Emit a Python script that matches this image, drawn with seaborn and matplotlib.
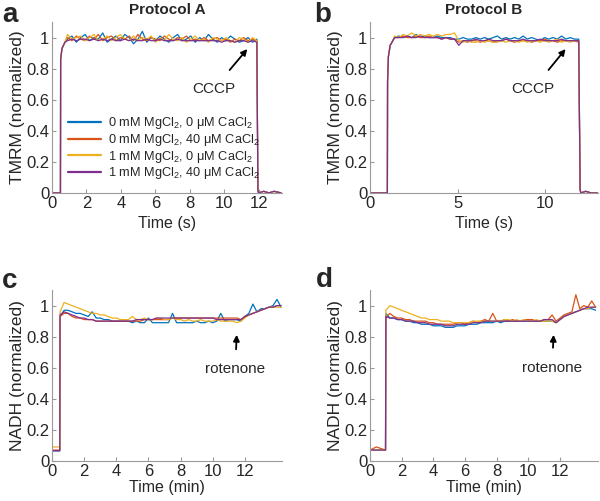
import numpy as np
import pandas as pd
import matplotlib
matplotlib.use('Agg')
import matplotlib.pyplot as plt
import seaborn as sns

sns.set_style('white')
plt.rcParams['font.family'] = ['Liberation Sans', 'DejaVu Sans']
plt.rcParams['mathtext.fontset'] = 'custom'
plt.rcParams['mathtext.rm'] = 'Liberation Sans'

conditions = ['0 mM MgCl$_2$, 0 \u03bcM CaCl$_2$',
              '0 mM MgCl$_2$, 40 \u03bcM CaCl$_2$',
              '1 mM MgCl$_2$, 0 \u03bcM CaCl$_2$',
              '1 mM MgCl$_2$, 40 \u03bcM CaCl$_2$']
colors = ['#0072BD', '#D95319', '#EDB120', '#7E2F8E']

# ----- Panel a : TMRM, protocol A (s) -----
a_rise_time = [0.0, 0.49, 0.5, 0.58, 0.75]
a_rise = [0.0, 0.0, 0.86, 0.93, 0.97]
a_plateau_span = (0.9, 11.9)
a_blue = [0.99, 1.01, 0.97, 1.00, 1.02, 0.98, 1.00, 0.99, 1.03, 0.97,
          0.99, 1.01, 0.98, 1.02, 1.00, 0.96, 0.99, 1.04, 0.97, 1.00,
          0.98, 1.01, 0.99, 0.97, 1.00, 1.02, 0.98, 0.99, 1.01, 0.97,
          1.00, 0.98, 1.02, 0.99, 0.97, 1.00, 0.98, 1.01, 0.99, 0.97,
          0.98, 1.00, 0.97, 0.99]
a_red = [1.00, 0.98, 1.01, 0.99, 0.98, 1.01, 0.99, 1.02, 0.98, 1.00,
         1.01, 0.98, 1.00, 0.99, 1.01, 0.98, 1.02, 0.99, 0.98, 1.00,
         0.99, 0.98, 1.01, 0.99, 0.98, 1.00, 0.99, 1.01, 0.98, 0.99,
         0.98, 1.00, 0.98, 0.99, 1.00, 0.98, 0.99, 0.97, 0.99, 0.98,
         1.00, 0.98, 0.99, 0.98]
a_yellow = [1.02, 0.99, 1.00, 1.01, 0.98, 1.00, 1.02, 0.98, 0.99, 1.01,
            0.98, 1.00, 1.02, 0.99, 0.98, 1.01, 0.98, 1.00, 0.99, 1.01,
            0.97, 1.00, 0.98, 1.02, 0.99, 0.98, 1.00, 0.97, 0.99, 1.01,
            0.98, 0.99, 0.97, 1.00, 0.99, 0.98, 1.00, 0.98, 0.97, 1.00,
            0.99, 0.97, 1.00, 0.98]
a_purple = [0.98, 0.99, 0.98, 0.99, 0.99, 0.98, 0.99, 0.98, 0.99, 0.98,
            0.99, 0.98, 0.98, 0.99, 0.98, 0.99, 0.98, 0.98, 0.99, 0.98,
            0.98, 0.99, 0.98, 0.98, 0.98, 0.99, 0.98, 0.98, 0.98, 0.98,
            0.98, 0.98, 0.98, 0.98, 0.98, 0.97, 0.98, 0.98, 0.97, 0.98,
            0.98, 0.97, 0.98, 0.97]
a_drop_time = [11.96, 12.0, 12.3, 12.6, 12.9, 13.3]
a_drop = [0.02, 0.0, 0.01, 0.0, 0.01, 0.0]

# ----- Panel b : TMRM, protocol B (s) -----
b_rise_time = [0.0, 0.99, 1.0, 1.05, 1.15, 1.3]
b_rise = [0.0, 0.0, 0.72, 0.88, 0.95, 0.98]
b_plateau_span = (1.4, 11.9)
b_blue = [1.00, 1.01, 1.00, 1.01, 1.00, 1.02, 1.00, 1.01, 1.00, 1.00,
          1.01, 1.00, 1.00, 1.00, 0.99, 0.99, 1.00, 0.99, 0.99, 1.00,
          0.99, 1.00, 0.99, 1.00, 1.01, 0.99, 1.00, 0.99, 1.00, 0.99,
          1.01, 0.99, 1.00, 0.99, 0.98, 1.00, 0.99, 1.00, 0.99, 1.01,
          0.99, 1.00, 0.99, 0.99]
b_red = [1.00, 1.00, 1.01, 1.00, 1.00, 1.01, 1.00, 1.00, 1.01, 1.00,
         1.00, 0.99, 1.00, 0.99, 0.99, 0.97, 0.98, 0.97, 0.98, 0.98,
         0.97, 0.98, 0.98, 0.97, 0.98, 0.98, 0.99, 0.98, 0.97, 0.98,
         0.98, 0.98, 0.97, 0.98, 0.98, 0.99, 0.98, 0.98, 0.97, 0.98,
         0.98, 0.98, 0.98, 0.97]
b_yellow = [1.01, 1.00, 1.02, 1.01, 1.03, 1.01, 1.02, 1.01, 1.02, 1.01,
            1.02, 1.01, 1.02, 1.02, 1.03, 0.98, 0.97, 0.98, 0.97, 0.97,
            0.98, 0.97, 0.98, 0.97, 0.97, 0.98, 0.97, 0.98, 0.98, 0.97,
            0.98, 0.97, 0.98, 0.98, 0.97, 0.98, 0.97, 0.98, 0.99, 0.97,
            0.98, 0.97, 0.98, 0.98]
b_purple = [1.00, 1.00, 1.00, 1.01, 1.00, 1.00, 1.01, 1.00, 1.00, 1.00,
            1.00, 0.99, 1.00, 0.99, 0.99, 0.95, 0.98, 0.98, 0.98, 0.99,
            0.98, 0.98, 0.99, 0.98, 0.98, 0.98, 0.99, 0.98, 0.98, 0.98,
            0.99, 0.98, 0.98, 0.98, 0.99, 0.98, 0.98, 0.98, 0.98, 0.99,
            0.98, 0.98, 0.98, 0.98]
b_drop_time = [11.98, 12.02, 12.3, 12.6, 13.0]
b_drop = [0.02, 0.0, 0.01, 0.0, 0.0]

# ----- Panel c : NADH, protocol A (min) -----
c_base_time = [0.0, 0.48]
c_base = [[0.065, 0.065], [0.07, 0.07], [0.09, 0.09], [0.065, 0.065]]
c_span = (0.5, 14.25)
c_blue = [0.93, 0.97, 0.97, 0.96, 0.95, 0.95, 0.94, 0.93, 0.96, 0.92,
          0.92, 0.91, 0.91, 0.90, 0.90, 0.90, 0.90, 0.90, 0.89, 0.90,
          0.89, 0.89, 0.92, 0.89, 0.89, 0.89, 0.89, 0.89, 0.95, 0.89,
          0.89, 0.89, 0.89, 0.89, 0.90, 0.89, 0.89, 0.90, 0.89, 0.90,
          0.95, 0.90, 0.91, 0.91, 0.91, 0.90, 0.93, 0.95, 1.01, 0.96,
          0.98, 0.98, 0.99, 1.00, 1.04, 0.99]
c_red = [0.93, 0.95, 0.95, 0.93, 0.92, 0.92, 0.91, 0.91, 0.91, 0.90,
         0.90, 0.90, 0.90, 0.90, 0.90, 0.90, 0.90, 0.90, 0.90, 0.90,
         0.90, 0.91, 0.91, 0.91, 0.91, 0.91, 0.91, 0.91, 0.92, 0.92,
         0.92, 0.92, 0.92, 0.92, 0.92, 0.92, 0.92, 0.92, 0.92, 0.92,
         0.92, 0.92, 0.92, 0.92, 0.92, 0.91, 0.93, 0.94, 0.95, 0.96,
         0.97, 0.98, 0.99, 0.99, 1.00, 1.00]
c_yellow = [0.96, 1.02, 1.01, 1.00, 0.99, 0.98, 0.97, 0.96, 0.95, 0.95,
            0.94, 0.94, 0.93, 0.92, 0.92, 0.91, 0.91, 0.91, 0.93, 0.91,
            0.91, 0.92, 0.91, 0.91, 0.92, 0.92, 0.91, 0.91, 0.92, 0.91,
            0.91, 0.90, 0.91, 0.90, 0.90, 0.91, 0.90, 0.90, 0.90, 0.91,
            0.90, 0.90, 0.90, 0.90, 0.89, 0.90, 0.92, 0.94, 0.95, 0.96,
            0.97, 0.98, 0.99, 0.99, 0.99, 0.99]
c_purple = [0.94, 0.96, 0.95, 0.94, 0.93, 0.92, 0.92, 0.91, 0.91, 0.90,
            0.90, 0.90, 0.90, 0.90, 0.90, 0.90, 0.90, 0.90, 0.90, 0.91,
            0.91, 0.91, 0.91, 0.91, 0.92, 0.92, 0.92, 0.92, 0.92, 0.92,
            0.92, 0.92, 0.92, 0.92, 0.92, 0.92, 0.92, 0.92, 0.92, 0.91,
            0.91, 0.91, 0.91, 0.91, 0.91, 0.91, 0.93, 0.94, 0.95, 0.96,
            0.97, 0.98, 0.99, 0.99, 1.00, 1.00]

# ----- Panel d : NADH, protocol B (min) -----
d_base_time = [0.0, 0.4, 0.98]
d_base = [[0.07, 0.07, 0.07], [0.07, 0.09, 0.07], [0.07, 0.07, 0.07], [0.07, 0.07, 0.07]]
d_span = (1.0, 14.25)
d_blue = [0.95, 0.92, 0.92, 0.91, 0.91, 0.90, 0.90, 0.89, 0.89, 0.88,
          0.88, 0.88, 0.87, 0.87, 0.87, 0.86, 0.86, 0.86, 0.87, 0.87,
          0.87, 0.88, 0.88, 0.88, 0.89, 0.89, 0.89, 0.89, 0.90, 0.89,
          0.90, 0.90, 0.90, 0.90, 0.90, 0.90, 0.90, 0.90, 0.90, 0.90,
          0.90, 0.90, 0.90, 0.89, 0.91, 0.93, 0.94, 0.95, 0.96, 0.97,
          0.98, 0.98, 0.98, 0.97]
d_red = [0.92, 0.95, 0.93, 0.92, 0.92, 0.91, 0.91, 0.90, 0.90, 0.90,
         0.90, 0.89, 0.89, 0.88, 0.88, 0.88, 0.88, 0.88, 0.89, 0.89,
         0.88, 0.89, 0.90, 0.89, 0.90, 0.91, 0.90, 0.95, 0.90, 0.90,
         0.91, 0.90, 0.91, 0.90, 0.90, 0.91, 0.91, 0.91, 0.90, 0.90,
         0.91, 0.91, 0.94, 0.90, 0.92, 0.94, 0.95, 0.96, 1.07, 0.98,
         1.00, 0.99, 1.03, 0.99]
d_yellow = [0.97, 1.00, 0.99, 0.98, 0.97, 0.96, 0.95, 0.94, 0.93, 0.92,
            0.92, 0.91, 0.91, 0.91, 0.90, 0.90, 0.90, 0.89, 0.89, 0.89,
            0.89, 0.89, 0.90, 0.90, 0.90, 0.90, 0.90, 0.90, 0.90, 0.90,
            0.91, 0.91, 0.90, 0.91, 0.90, 0.91, 0.90, 0.90, 0.91, 0.90,
            0.90, 0.90, 0.90, 0.89, 0.91, 0.93, 0.94, 0.95, 0.96, 0.97,
            0.98, 0.98, 0.99, 0.99]
d_purple = [0.93, 0.92, 0.92, 0.91, 0.91, 0.90, 0.90, 0.90, 0.89, 0.89,
            0.89, 0.88, 0.88, 0.88, 0.88, 0.87, 0.87, 0.87, 0.88, 0.88,
            0.88, 0.88, 0.89, 0.89, 0.89, 0.90, 0.90, 0.90, 0.90, 0.90,
            0.90, 0.90, 0.90, 0.90, 0.90, 0.90, 0.90, 0.90, 0.90, 0.90,
            0.91, 0.91, 0.91, 0.89, 0.91, 0.93, 0.94, 0.95, 0.96, 0.97,
            0.98, 0.99, 0.99, 0.99]


def tmrm_frame(rise_t, rise, span, series, drop_t, drop):
    rows = []
    for cond, vals in zip(conditions, series):
        t = list(rise_t) + list(np.linspace(span[0], span[1], len(vals))) + list(drop_t)
        y = list(rise) + list(vals) + list(drop)
        rows.append(pd.DataFrame({'time': t, 'value': y, 'condition': cond}))
    return pd.concat(rows, ignore_index=True)


def nadh_frame(base_t, base, span, series):
    rows = []
    for cond, b, vals in zip(conditions, base, series):
        t = list(base_t) + list(np.linspace(span[0], span[1], len(vals)))
        y = list(b) + list(vals)
        rows.append(pd.DataFrame({'time': t, 'value': y, 'condition': cond}))
    return pd.concat(rows, ignore_index=True)


df_a = tmrm_frame(a_rise_time, a_rise, a_plateau_span, [a_blue, a_red, a_yellow, a_purple], a_drop_time, a_drop)
df_b = tmrm_frame(b_rise_time, b_rise, b_plateau_span, [b_blue, b_red, b_yellow, b_purple], b_drop_time, b_drop)
df_c = nadh_frame(c_base_time, c_base, c_span, [c_blue, c_red, c_yellow, c_purple])
df_d = nadh_frame(d_base_time, d_base, d_span, [d_blue, d_red, d_yellow, d_purple])

fig = plt.figure(figsize=(6.0, 5.01), dpi=100)
ax_a = fig.add_axes([0.0867, 0.615, 0.383, 0.341])
ax_b = fig.add_axes([0.6167, 0.615, 0.38, 0.341])
ax_c = fig.add_axes([0.0867, 0.080, 0.383, 0.341])
ax_d = fig.add_axes([0.6167, 0.080, 0.38, 0.341])

palette = dict(zip(conditions, colors))
for ax, df in [(ax_a, df_a), (ax_b, df_b), (ax_c, df_c), (ax_d, df_d)]:
    sns.lineplot(data=df, x='time', y='value', hue='condition', palette=palette,
                 estimator=None, sort=False, lw=0.9, ax=ax, legend=(ax is ax_a))
    ax.set_ylim(0, 1.1)
    ax.set_yticks([0, 0.2, 0.4, 0.6, 0.8, 1])
    ax.set_yticklabels(['0', '0.2', '0.4', '0.6', '0.8', '1'])
    for side in ['top', 'right']:
        ax.spines[side].set_visible(False)
    for side in ['left', 'bottom']:
        ax.spines[side].set_color('#9a9a9a')
        ax.spines[side].set_linewidth(0.8)
    ax.tick_params(direction='in', length=3, width=0.8, color='#9a9a9a',
                   labelsize=12, pad=2, left=True, bottom=True)

ax_a.set_xlim(0, 13.35)
ax_a.set_xticks([0, 2, 4, 6, 8, 10, 12])
ax_b.set_xlim(0, 13.0)
ax_b.set_xticks([0, 5, 10])
ax_c.set_xlim(0, 14.3)
ax_c.set_xticks([0, 2, 4, 6, 8, 10, 12])
ax_d.set_xlim(0, 14.4)
ax_d.set_xticks([0, 2, 4, 6, 8, 10, 12])

for ax in [ax_a, ax_b]:
    ax.set_xlabel('Time (s)', fontsize=11.5, labelpad=4)
    ax.set_ylabel('TMRM (normalized)', fontsize=12.5, labelpad=1)
for ax in [ax_c, ax_d]:
    ax.set_xlabel('Time (min)', fontsize=11.5, labelpad=1)
    ax.set_ylabel('NADH (normalized)', fontsize=12.5, labelpad=1)

ax_a.set_title('Protocol A', fontsize=11, fontweight='bold', pad=6)
ax_b.set_title('Protocol B', fontsize=11, fontweight='bold', pad=6)

leg = ax_a.legend(loc='lower left', bbox_to_anchor=(0.02, 0.0), frameon=False,
                  fontsize=9.2, handlelength=2.6, handletextpad=0.5, labelspacing=0.05)
for line in leg.get_lines():
    line.set_linewidth(1.6)

arrow = dict(arrowstyle='-|>', color='black', lw=1.3, mutation_scale=9)
ax_a.annotate('CCCP', xy=(11.45, 0.94), xytext=(9.4, 0.67), fontsize=11,
              ha='center', va='center', arrowprops=dict(arrow, shrinkA=8))
ax_b.annotate('CCCP', xy=(11.25, 0.94), xytext=(9.3, 0.67), fontsize=11,
              ha='center', va='center', arrowprops=dict(arrow, shrinkA=8))
ax_c.annotate('rotenone', xy=(11.5, 0.83), xytext=(11.4, 0.59), fontsize=11,
              ha='center', va='center', arrowprops=dict(arrow, shrinkA=7))
ax_d.annotate('rotenone', xy=(11.6, 0.83), xytext=(11.5, 0.60), fontsize=11,
              ha='center', va='center', arrowprops=dict(arrow, shrinkA=7))

for label, x, y in [('a', 0.003, 0.957), ('b', 0.523, 0.957), ('c', 0.003, 0.425), ('d', 0.527, 0.427)]:
    fig.text(x, y, label, fontsize=20, fontweight='bold', ha='left', va='baseline')

fig.savefig('out.png', dpi=100)
